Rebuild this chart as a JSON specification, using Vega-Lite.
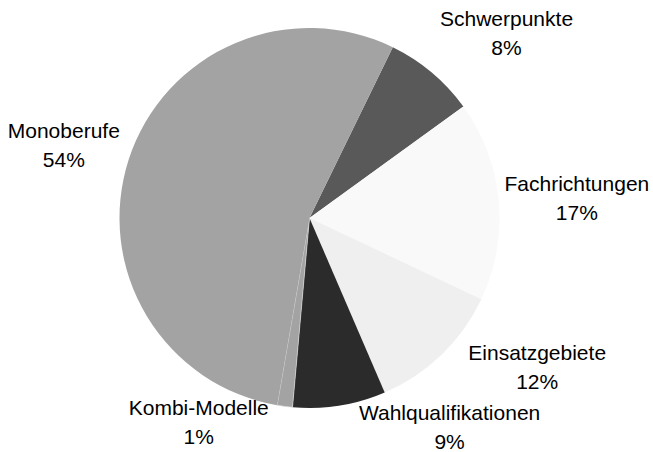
{
  "$schema": "https://vega.github.io/schema/vega-lite/v6.json",
  "width": 619,
  "height": 436,
  "autosize": {"type": "none"},
  "padding": {"left": 0, "top": 0, "right": 34, "bottom": 16},
  "background": "white",
  "config": {"view": {"stroke": null}, "text": {"fontSize": 21, "font": "Liberation Sans", "lineBreak": "\n", "lineHeight": 29, "align": "center", "baseline": "middle", "color": "#000000", "dy": -14.5}},
  "data": {
    "values": [
      {"name": "Schwerpunkte", "value": 7.8, "label": "Schwerpunkte\n8%", "order": 1},
      {"name": "Fachrichtungen", "value": 17.0, "label": "Fachrichtungen\n17%", "order": 2},
      {"name": "Einsatzgebiete", "value": 11.5, "label": "Einsatzgebiete\n12%", "order": 3},
      {"name": "Wahlqualifikationen", "value": 7.9, "label": "Wahlqualifikationen\n9%", "order": 4},
      {"name": "Kombi-Modelle", "value": 1.3, "label": "Kombi-Modelle\n1%", "order": 5},
      {"name": "Monoberufe", "value": 54.5, "label": "Monoberufe\n54%", "order": 6}
    ]
  },
  "encoding": {
    "theta": {"field": "value", "type": "quantitative", "stack": true, "scale": {"range": [0.4538, 6.737]}},
    "order": {"field": "order", "type": "quantitative"}
  },
  "layer": [
    {
      "mark": {"type": "arc", "outerRadius": 190},
      "encoding": {
        "color": {
          "field": "name",
          "type": "nominal",
          "legend": null,
          "scale": {
            "domain": ["Schwerpunkte", "Fachrichtungen", "Einsatzgebiete", "Wahlqualifikationen", "Kombi-Modelle", "Monoberufe"],
            "range": ["#595959", "#f9f9f9", "#efefef", "#2b2b2b", "#a3a3a3", "#a3a3a3"]
          }
        },
        "stroke": {"condition": {"test": "datum.name === 'Kombi-Modelle'", "value": "#e0e0e0"}, "value": "transparent"},
        "strokeWidth": {"value": 0.6}
      }
    },
    {
      "mark": {"type": "text", "radius": 269, "thetaOffset": 0.123, "dy": -14.5},
      "encoding": {"text": {"condition": {"test": "datum.name === 'Schwerpunkte'", "field": "label", "type": "nominal"}, "value": ""}}
    },
    {
      "mark": {"type": "text", "radius": 268, "thetaOffset": 0.025, "dy": -14.5},
      "encoding": {"text": {"condition": {"test": "datum.name === 'Fachrichtungen'", "field": "label", "type": "nominal"}, "value": ""}}
    },
    {
      "mark": {"type": "text", "radius": 273, "thetaOffset": -0.218, "dy": -14.5},
      "encoding": {"text": {"condition": {"test": "datum.name === 'Einsatzgebiete'", "field": "label", "type": "nominal"}, "value": ""}}
    },
    {
      "mark": {"type": "text", "radius": 253, "thetaOffset": -0.428, "dy": -14.5},
      "encoding": {"text": {"condition": {"test": "datum.name === 'Wahlqualifikationen'", "field": "label", "type": "nominal"}, "value": ""}}
    },
    {
      "mark": {"type": "text", "radius": 233, "thetaOffset": 0.365, "dy": -14.5},
      "encoding": {"text": {"condition": {"test": "datum.name === 'Kombi-Modelle'", "field": "label", "type": "nominal"}, "value": ""}}
    },
    {
      "mark": {"type": "text", "radius": 256, "thetaOffset": -0.028, "dy": -14.5},
      "encoding": {"text": {"condition": {"test": "datum.name === 'Monoberufe'", "field": "label", "type": "nominal"}, "value": ""}}
    }
  ]
}
